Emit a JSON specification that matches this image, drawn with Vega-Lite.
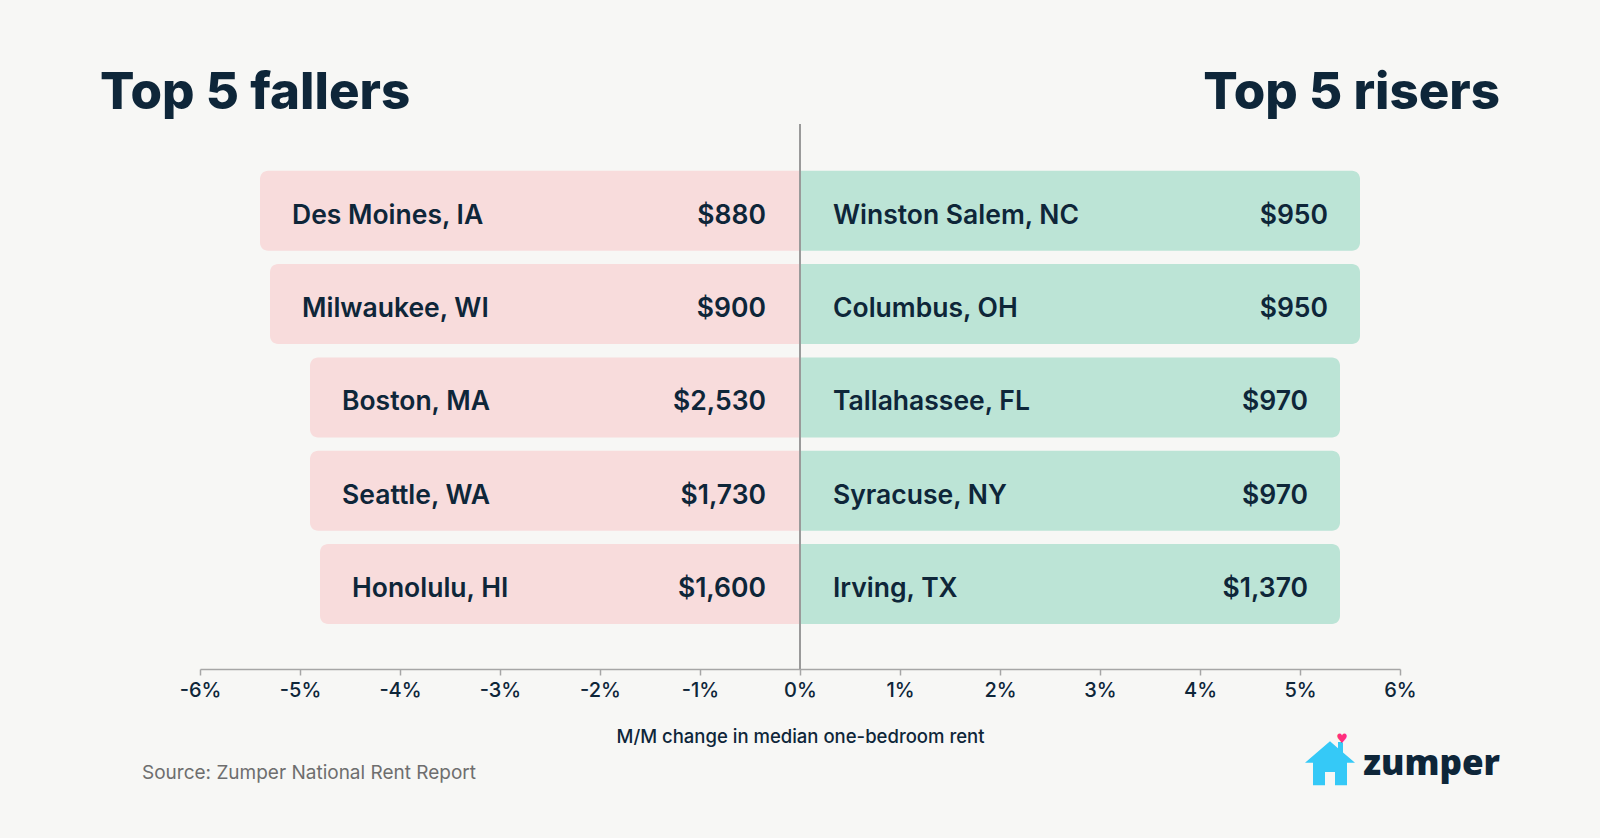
{
  "$schema": "https://vega.github.io/schema/vega-lite/v6.json",
  "width": 1200,
  "height": 545,
  "autosize": {"type": "none"},
  "padding": {"left": 200, "top": 124, "right": 200, "bottom": 169},
  "background": "#f7f7f5",
  "config": {"view": {"stroke": null}, "font": "Inter"},
  "data": {
    "values": [
      {"rank": 1, "side": "faller", "city": "Des Moines, IA", "rent": "$880", "change": -5.4},
      {"rank": 2, "side": "faller", "city": "Milwaukee, WI", "rent": "$900", "change": -5.3},
      {"rank": 3, "side": "faller", "city": "Boston, MA", "rent": "$2,530", "change": -4.9},
      {"rank": 4, "side": "faller", "city": "Seattle, WA", "rent": "$1,730", "change": -4.9},
      {"rank": 5, "side": "faller", "city": "Honolulu, HI", "rent": "$1,600", "change": -4.8},
      {"rank": 1, "side": "riser", "city": "Winston Salem, NC", "rent": "$950", "change": 5.6},
      {"rank": 2, "side": "riser", "city": "Columbus, OH", "rent": "$950", "change": 5.6},
      {"rank": 3, "side": "riser", "city": "Tallahassee, FL", "rent": "$970", "change": 5.4},
      {"rank": 4, "side": "riser", "city": "Syracuse, NY", "rent": "$970", "change": 5.4},
      {"rank": 5, "side": "riser", "city": "Irving, TX", "rent": "$1,370", "change": 5.4}
    ]
  },
  "layer": [
    {
      "transform": [{"filter": "datum.side === 'faller'"}],
      "mark": {"type": "bar", "height": 80, "color": "#f8dcdc", "cornerRadiusTopLeft": 8, "cornerRadiusBottomLeft": 8},
      "encoding": {
        "x": {
          "field": "change", "type": "quantitative",
          "scale": {"domain": [-6, 6], "nice": false, "zero": false, "padding": 0},
          "axis": {
            "values": [-6, -5, -4, -3, -2, -1, 0, 1, 2, 3, 4, 5, 6],
            "labelExpr": "datum.value + '%'",
            "labelFlush": false,
            "grid": false,
            "domainColor": "#a6a6a6", "domainWidth": 1.5,
            "tickColor": "#a6a6a6", "tickWidth": 1.5, "tickSize": 6,
            "labelFont": "Inter", "labelFontSize": 20, "labelFontWeight": 500, "labelColor": "#0e2639", "labelPadding": 5,
            "title": "M/M change in median one-bedroom rent",
            "titleFont": "Inter", "titleFontSize": 18.5, "titleFontWeight": 500, "titleColor": "#0e2639", "titlePadding": 27
          }
        },
        "x2": {"datum": 0},
        "y": {"field": "rank", "type": "quantitative", "scale": {"domain": [0.07, 5.91], "reverse": true, "nice": false, "zero": false, "padding": 0}, "axis": null}
      }
    },
    {
      "transform": [{"filter": "datum.side === 'riser'"}],
      "mark": {"type": "bar", "height": 80, "color": "#bce4d6", "cornerRadiusTopRight": 8, "cornerRadiusBottomRight": 8},
      "encoding": {
        "x": {"field": "change", "type": "quantitative"},
        "x2": {"datum": 0},
        "y": {"field": "rank", "type": "quantitative"}
      }
    },
    {
      "data": {"values": [{}]},
      "mark": {"type": "rule", "color": "#9a9a9a", "strokeWidth": 2},
      "encoding": {"x": {"datum": 0}}
    },
    {
      "transform": [{"filter": "datum.side === 'faller'"}],
      "mark": {"type": "text", "align": "left", "baseline": "alphabetic", "dx": 32, "dy": 13, "font": "Inter", "fontSize": 26.5, "fontWeight": 600, "color": "#0e2639"},
      "encoding": {
        "x": {"field": "change", "type": "quantitative"},
        "y": {"field": "rank", "type": "quantitative"},
        "text": {"field": "city"}
      }
    },
    {
      "transform": [{"filter": "datum.side === 'faller'"}],
      "mark": {"type": "text", "align": "right", "baseline": "alphabetic", "dx": -34, "dy": 13, "font": "Inter", "fontSize": 26.5, "fontWeight": 600, "color": "#0e2639"},
      "encoding": {
        "x": {"datum": 0},
        "y": {"field": "rank", "type": "quantitative"},
        "text": {"field": "rent"}
      }
    },
    {
      "transform": [{"filter": "datum.side === 'riser'"}],
      "mark": {"type": "text", "align": "left", "baseline": "alphabetic", "dx": 33, "dy": 13, "font": "Inter", "fontSize": 26.5, "fontWeight": 600, "color": "#0e2639"},
      "encoding": {
        "x": {"datum": 0},
        "y": {"field": "rank", "type": "quantitative"},
        "text": {"field": "city"}
      }
    },
    {
      "transform": [{"filter": "datum.side === 'riser'"}],
      "mark": {"type": "text", "align": "right", "baseline": "alphabetic", "dx": -32, "dy": 13, "font": "Inter", "fontSize": 26.5, "fontWeight": 600, "color": "#0e2639"},
      "encoding": {
        "x": {"field": "change", "type": "quantitative"},
        "y": {"field": "rank", "type": "quantitative"},
        "text": {"field": "rent"}
      }
    },
    {
      "data": {"values": [{}]},
      "mark": {"type": "text", "text": "Top 5 fallers", "align": "left", "baseline": "alphabetic", "font": "Inter", "fontSize": 51, "fontWeight": 800, "color": "#0e2639"},
      "encoding": {"x": {"datum": -7}, "y": {"datum": -0.094}}
    },
    {
      "data": {"values": [{}]},
      "mark": {"type": "text", "text": "Top 5 risers", "align": "right", "baseline": "alphabetic", "font": "Inter", "fontSize": 51, "fontWeight": 800, "color": "#0e2639"},
      "encoding": {"x": {"datum": 7}, "y": {"datum": -0.094}}
    },
    {
      "data": {"values": [{}]},
      "mark": {"type": "text", "text": "Source: Zumper National Rent Report", "align": "left", "baseline": "middle", "font": "Inter", "fontSize": 19, "fontWeight": 400, "color": "#6e6e6e"},
      "encoding": {"x": {"datum": -6.58}, "y": {"datum": 7.02}}
    },
    {
      "data": {"values": [{}]},
      "mark": {"type": "point", "shape": "M0,-0.88 L0.32,-0.6 L0.32,-0.85 L0.52,-0.85 L0.52,-0.43 L1,-0.02 L0.68,-0.02 L0.68,0.88 L0.2,0.88 L0.2,0.35 L-0.2,0.35 L-0.2,0.88 L-0.68,0.88 L-0.68,-0.02 L-1,-0.02 Z", "filled": true, "color": "#35c9f7", "opacity": 1, "size": 2500},
      "encoding": {"x": {"datum": 5.30}, "y": {"datum": 6.92}}
    },
    {
      "data": {"values": [{}]},
      "mark": {"type": "text", "text": "♥", "align": "center", "baseline": "middle", "font": "DejaVu Sans", "fontSize": 13, "color": "#ff2f7d"},
      "encoding": {"x": {"datum": 5.42}, "y": {"datum": 6.66}}
    },
    {
      "data": {"values": [{}]},
      "mark": {"type": "text", "text": "zumper", "align": "right", "baseline": "alphabetic", "font": "Open Sans", "fontSize": 35, "fontWeight": 800, "color": "#0e2639"},
      "encoding": {"x": {"datum": 7}, "y": {"datum": 7.05}}
    }
  ]
}
